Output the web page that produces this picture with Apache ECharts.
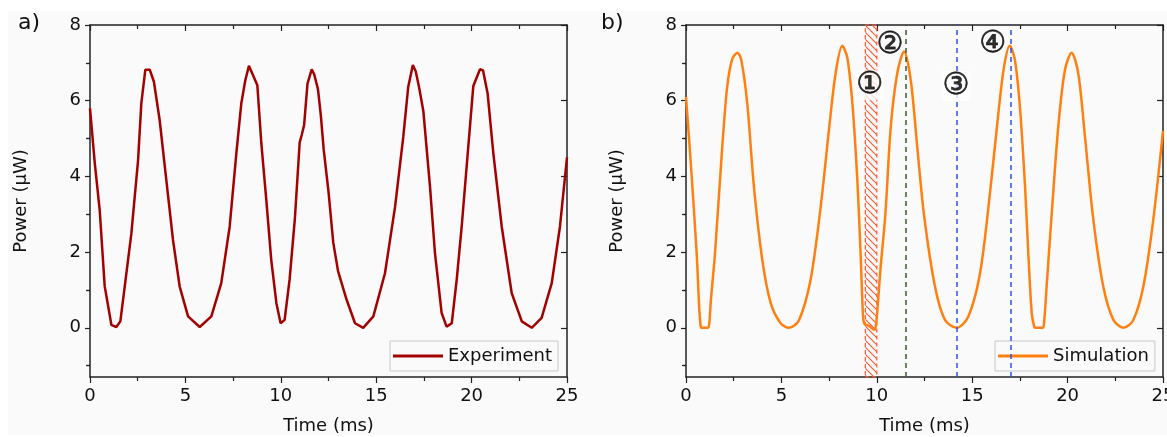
<!DOCTYPE html>
<html>
<head>
<meta charset="utf-8">
<title>Power vs time</title>
<script src="https://cdn.jsdelivr.net/npm/echarts@6/dist/echarts.min.js"></script>
<style>
html,body{margin:0;padding:0;background:#fff;}
#main{width:1167px;height:437px;}
</style>
</head>
<body>
<div id="main"></div>
<script>
// 实验曲线 (ms, μW)
var expTime  = [0, 0.25, 0.51, 0.77, 1.12, 1.38, 1.59, 1.82, 2.17, 2.52, 2.69, 2.9, 3.13, 3.35, 3.65, 4.0, 4.35, 4.7, 5.14, 5.75,
                6.36, 6.88, 7.32, 7.67, 7.93, 8.14, 8.33, 8.54, 8.77, 8.98, 9.24, 9.5, 9.77, 9.99, 10.2, 10.46, 10.74, 10.99,
                11.1, 11.22, 11.4, 11.62, 11.75, 11.95, 12.1, 12.25, 12.5, 12.75, 13.0, 13.45, 13.89, 14.32, 14.85, 15.46,
                15.99, 16.42, 16.68, 16.92, 17.07, 17.25, 17.47, 17.82, 18.08, 18.43, 18.69, 18.96, 19.22, 19.48, 19.74,
                20.09, 20.44, 20.6, 20.84, 21.14, 21.58, 22.1, 22.63, 23.15, 23.67, 24.2, 24.63, 25];
var expPower = [5.8, 4.35, 3.1, 1.1, 0.08, 0.02, 0.17, 1.09, 2.5, 4.43, 5.93, 6.82, 6.82, 6.5, 5.49, 3.9, 2.32, 1.09, 0.3, 0.02,
                0.3, 1.18, 2.67, 4.61, 5.93, 6.54, 6.92, 6.68, 6.41, 4.87, 3.38, 1.79, 0.65, 0.12, 0.21, 1.27, 2.9, 4.9,
                5.1, 5.35, 6.45, 6.83, 6.7, 6.3, 5.6, 4.7, 3.6, 2.25, 1.5, 0.74, 0.12, 0.0, 0.3, 1.44,
                3.2, 5.05, 6.37, 6.94, 6.78, 6.35, 5.73, 3.73, 1.97, 0.39, 0.03, 0.12, 1.27, 2.67, 4.26,
                6.39, 6.83, 6.8, 6.19, 4.61, 2.67, 0.92, 0.17, 0.0, 0.26, 1.18, 2.67, 4.5];

// 仿真曲线
var simTime  = [0, 0.24, 0.56, 0.68, 0.76, 0.82, 1.15, 1.22, 1.3, 1.52, 1.9, 2.16, 2.43, 2.7, 2.9, 3.21, 3.56, 4.0, 4.44, 4.96,
                5.4, 5.92, 6.53, 7.06, 7.49, 7.84, 8.19, 8.45, 8.72, 8.98, 9.15, 9.28, 9.36, 9.6, 9.85, 9.95, 10.05, 10.2,
                10.45, 10.73, 11.07, 11.43, 11.78, 12.12, 12.47, 13.05, 13.57, 14.19, 14.8, 15.41, 15.93, 16.37, 16.67, 16.97,
                17.24, 17.5, 17.77, 17.94, 18.12, 18.25, 18.32, 18.68, 18.76, 18.9, 19.17, 19.51, 19.86, 20.21, 20.56, 20.91,
                21.35, 21.87, 22.4, 22.92, 23.44, 23.97, 24.49, 25];
var simPower = [6.1, 4.43, 1.97, 0.65, 0.08, 0, 0, 0.12, 0.7, 1.97, 4.78, 6.37, 7.11, 7.27, 7.07, 5.93, 3.73, 1.79, 0.65, 0.12,
                0.0, 0.2, 1.27, 3.2, 5.22, 6.72, 7.45, 7.15, 5.93, 3.9, 1.97, 0.3, 0.1, 0.05, -0.05, 0.05, 0.6, 1.6,
                3.0, 5.3, 6.72, 7.3, 6.54, 4.78, 3.0, 1.09, 0.21, 0.0, 0.3, 1.44, 3.55, 5.66, 6.9, 7.45,
                7.07, 5.84, 3.73, 1.97, 0.39, 0.03, 0, 0, 0.1, 1.09, 3.03, 5.31, 6.81, 7.27, 6.72, 5.05,
                2.85, 1.09, 0.21, 0.0, 0.2, 1.09, 2.85, 5.2];

// 刻度
var yTicks = [0, 2, 4, 6, 8];
var yMinorTicks = [-1, 1, 3, 5, 7];

// 标注: 阴影区间, 竖线, 圈号
var hatchRange = [9.4, 10.0];
var greenLineT = [11.5];
var blueLineT = [14.2, 17.0];
var markT = [9.63, 10.69, 14.15, 16.07];
var markP = [6.41, 7.47, 6.39, 7.5];
var markText = ['①', '②', '③', '④'];
var markOnLine = [true, false, true, false];   // 压在线上的要白底

var FONT = 'DejaVu Sans';
var AX = '#222';

function pairs(xs, ys) {
    var out = [];
    for (var i = 0; i < xs.length; i++) out.push([xs[i], ys[i]]);
    return out;
}

// 斜线填充
function hatchPattern() {
    var c = document.createElement('canvas');
    c.width = 7; c.height = 7;
    var ctx = c.getContext('2d');
    ctx.strokeStyle = '#ff5a36';
    ctx.lineWidth = 1.2;
    for (var k = -1; k <= 1; k++) {
        ctx.beginPath();
        ctx.moveTo(0, k * 7);
        ctx.lineTo(7, 7 + k * 7);
        ctx.stroke();
    }
    return c;
}

function xAxes(g) {
    var line = {onZero: false, lineStyle: {color: AX, width: 1.5}};
    return [{
        gridIndex: g, type: 'value', min: 0, max: 25, interval: 5, position: 'bottom',
        name: 'Time (ms)', nameLocation: 'middle', nameGap: 40,
        nameTextStyle: {fontSize: 18, color: '#111', fontFamily: FONT},
        axisLine: line,
        axisTick: {inside: false, length: 6, lineStyle: {color: AX, width: 1.2}},
        minorTick: {show: true, splitNumber: 2, length: 4, lineStyle: {color: AX, width: 1.2}},
        axisLabel: {fontSize: 18, color: '#111', margin: 10, fontFamily: FONT},
        splitLine: {show: false}
    }, {
        gridIndex: g, type: 'value', min: 0, max: 25, interval: 5, position: 'top',
        axisLine: line,
        axisTick: {inside: true, length: 6, lineStyle: {color: AX, width: 1.2}},
        minorTick: {show: true, splitNumber: 2, length: 4, lineStyle: {color: AX, width: 1.2}},
        axisLabel: {show: false},
        splitLine: {show: false}
    }];
}

function yAxes(g) {
    var line = {onZero: false, lineStyle: {color: AX, width: 1.5}};
    return [{
        gridIndex: g, type: 'value', min: -1.3, max: 8, position: 'left',
        name: 'Power (μW)', nameLocation: 'middle', nameGap: 60,
        nameTextStyle: {fontSize: 18, color: '#111', fontFamily: FONT},
        axisLine: line,
        axisTick: {inside: false, length: 5, customValues: yTicks, lineStyle: {color: AX, width: 1.2}},
        axisLabel: {fontSize: 18, color: '#111', margin: 9, fontFamily: FONT, customValues: yTicks},
        splitLine: {show: false}
    }, {
        gridIndex: g, type: 'value', min: -1.3, max: 8, position: 'left',
        axisLine: {show: false},
        axisTick: {inside: false, length: 3, customValues: yMinorTicks, lineStyle: {color: AX, width: 1.2}},
        axisLabel: {show: false},
        splitLine: {show: false}
    }, {
        gridIndex: g, type: 'value', min: -1.3, max: 8, position: 'right',
        axisLine: line,
        axisTick: {inside: true, length: 6, customValues: yTicks, lineStyle: {color: AX, width: 1.2}},
        axisLabel: {show: false},
        splitLine: {show: false}
    }, {
        gridIndex: g, type: 'value', min: -1.3, max: 8, position: 'right',
        axisLine: {show: false},
        axisTick: {inside: true, length: 4, customValues: yMinorTicks, lineStyle: {color: AX, width: 1.2}},
        axisLabel: {show: false},
        splitLine: {show: false}
    }];
}

function legendBox(name, left) {
    return {
        data: [name], left: left, top: 341, icon: 'rect', itemWidth: 50, itemHeight: 3,
        selectedMode: false, padding: [6, 6, 6, 3],
        backgroundColor: '#fafafa', borderColor: '#c8c8c8', borderWidth: 1,
        textStyle: {fontSize: 18, color: '#111', fontFamily: FONT}
    };
}

var vLines = [];
greenLineT.forEach(function (t) {
    vLines.push({xAxis: t, lineStyle: {color: '#3d5c2a', type: [5, 4], width: 1.5}});
});
blueLineT.forEach(function (t) {
    vLines.push({xAxis: t, lineStyle: {color: '#2a55e0', type: [5, 4], width: 1.5}});
});

var marks = [];
for (var i = 0; i < markT.length; i++) {
    marks.push({
        value: [markT[i], markP[i], markText[i]],
        label: {backgroundColor: markOnLine[i] ? '#ffffff' : 'transparent'}
    });
}

var chart = echarts.init(document.getElementById('main'));
chart.setOption({
    backgroundColor: '#ffffff',
    animation: false,
    graphic: [{
        type: 'rect', z: -100, silent: true,
        shape: {x: 8, y: 11, width: 1159, height: 424},
        style: {fill: '#fafafa'}
    }],
    title: [
        {text: 'a)', left: 18, top: 12, padding: 0, textStyle: {fontSize: 22, fontWeight: 'normal', color: '#111', fontFamily: FONT}},
        {text: 'b)', left: 601, top: 12, padding: 0, textStyle: {fontSize: 22, fontWeight: 'normal', color: '#111', fontFamily: FONT}}
    ],
    grid: [
        {left: 90, right: 600, top: 25, bottom: 60, outerBoundsMode: 'none'},
        {left: 686, right: 4, top: 25, bottom: 60, outerBoundsMode: 'none'}
    ],
    xAxis: xAxes(0).concat(xAxes(1)),
    yAxis: yAxes(0).concat(yAxes(1)),
    legend: [legendBox('Experiment', 390), legendBox('Simulation', 995)],
    series: [{
        name: 'Experiment', type: 'line', xAxisIndex: 0, yAxisIndex: 0,
        symbol: 'none', lineStyle: {color: '#a30000', width: 2.5}, itemStyle: {color: '#a30000'},
        data: pairs(expTime, expPower)
    }, {
        name: 'Simulation', type: 'line', xAxisIndex: 2, yAxisIndex: 4,
        symbol: 'none', smooth: 0.3, lineStyle: {color: '#ff7f10', width: 2.5}, itemStyle: {color: '#ff7f10'},
        data: pairs(simTime, simPower),
        markArea: {
            silent: true,
            itemStyle: {
                color: {image: hatchPattern(), repeat: 'repeat'},
                borderColor: '#ff5a36', borderWidth: 1.2, borderType: [4, 3]
            },
            data: [[{xAxis: hatchRange[0]}, {xAxis: hatchRange[1]}]]
        },
        markLine: {
            silent: true, symbol: 'none', label: {show: false},
            data: vLines
        }
    }, {
        name: 'marks', type: 'scatter', xAxisIndex: 2, yAxisIndex: 4,
        symbolSize: 1, itemStyle: {color: 'rgba(0,0,0,0)'}, z: 5,
        label: {
            show: true, position: 'inside', formatter: function (p) { return p.value[2]; },
            fontSize: 30, color: '#000', fontFamily: 'DejaVu Sans',
            textBorderColor: '#000', textBorderWidth: 0.7, padding: [0, 1]
        },
        data: marks
    }]
});
</script>
</body>
</html>
